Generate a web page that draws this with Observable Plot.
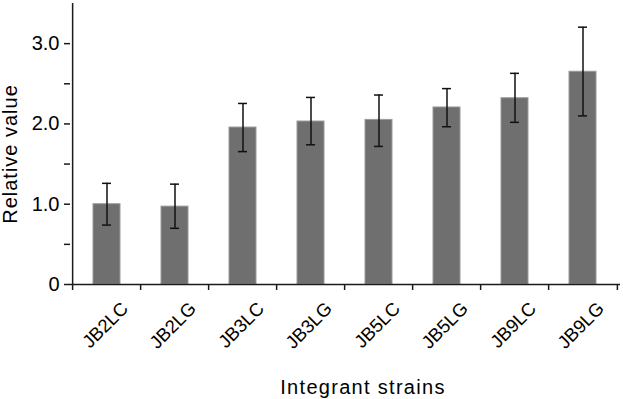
<!DOCTYPE html>
<html>
<head>
<meta charset="utf-8">
<script src="https://cdn.jsdelivr.net/npm/d3@7"></script>
<script src="https://cdn.jsdelivr.net/npm/@observablehq/plot@0.6"></script>
<style>
  html, body { margin: 0; padding: 0; background: #fff; }
  #chart { width: 623px; height: 399px; }
</style>
</head>
<body>
<div id="chart"></div>
<script>
const strains = ["JB2LC", "JB2LG", "JB3LC", "JB3LG", "JB5LC", "JB5LG", "JB9LC", "JB9LG"];
const values  = [1.00, 0.97, 1.955, 2.03, 2.05, 2.205, 2.32, 2.65];
const errLow  = [0.74, 0.70, 1.655, 1.74, 1.72, 1.965, 2.02, 2.10];
const errHigh = [1.26, 1.25, 2.255, 2.33, 2.36, 2.44, 2.63, 3.205];
const yMajorTicks = [0, 1, 2, 3];
const yMajorLabels = ["0", "1.0", "2.0", "3.0"];
const yMinorTicks = [0.5, 1.5, 2.5];
const xTitle = "Integrant strains";
const yTitle = "Relative value";

const data = strains.map((s, i) => ({strain: s, value: values[i], lo: errLow[i], hi: errHigh[i]}));

const W = 623, H = 399;
const mL = 70, mR = 3, mT = 3, mB = 115;
const step = (W - mL - mR) / strains.length;
const axisColor = "#1a1a1a";
const textColor = "#000";

const plot = Plot.plot({
  width: W,
  height: H,
  marginLeft: mL,
  marginRight: mR,
  marginTop: mT,
  marginBottom: mB,
  style: {fontFamily: "'Liberation Sans', Arial, sans-serif", color: textColor, background: "#fff"},
  x: {domain: strains, paddingInner: 0.6, paddingOuter: 0.3, axis: null},
  y: {domain: [0, 3.5], axis: null},
  marks: [
    Plot.barY(data, {x: "strain", y: "value", fill: "#6f6f6f", stroke: "#9a9a9a", strokeWidth: 1}),
    Plot.ruleX(data, {x: "strain", y1: "lo", y2: "hi", stroke: "#111", strokeWidth: 1.5}),
    Plot.tickY(data, {x: "strain", y: "lo", stroke: "#111", strokeWidth: 1.5, inset: 9}),
    Plot.tickY(data, {x: "strain", y: "hi", stroke: "#111", strokeWidth: 1.5, inset: 9}),
    // y axis line
    Plot.ruleX([strains[0]], {x: d => d, y1: 0, y2: 3.5, dx: -step / 2, stroke: axisColor, strokeWidth: 1.5}),
    // x axis line
    Plot.ruleY([0], {stroke: axisColor, strokeWidth: 1.5}),
    // x ticks at category boundaries
    Plot.ruleX(strains, {x: d => d, y1: 0, y2: 0, insetBottom: -6, dx: -step / 2, stroke: axisColor, strokeWidth: 1.5}),
    Plot.ruleX([strains[strains.length - 1]], {x: d => d, y1: 0, y2: 0, insetBottom: -6, dx: step / 2, stroke: axisColor, strokeWidth: 1.5}),
    // y axis ticks & labels
    Plot.axisY(yMajorTicks, {anchor: "left", tickSize: 6, tickPadding: 5, fontSize: 20, stroke: axisColor, strokeWidth: 1.5,
      tickFormat: (d) => yMajorLabels[yMajorTicks.indexOf(d)], label: null, fill: textColor}),
    Plot.axisY(yMinorTicks, {anchor: "left", tickSize: 6, tickFormat: () => "", label: null, stroke: axisColor, strokeWidth: 1.5}),
    // x tick labels
    Plot.text(strains, {x: d => d, text: d => d, frameAnchor: "bottom", rotate: -45, textAnchor: "end", lineAnchor: "middle",
      dx: 18, dy: 21, fontSize: 18.5, fill: textColor}),
    // axis titles
    Plot.text([yTitle], {text: d => d, frameAnchor: "left", rotate: -90, textAnchor: "middle", lineAnchor: "middle",
      dx: -60, dy: 10, fontSize: 20, fill: textColor}),
    Plot.text([xTitle], {text: d => d, frameAnchor: "bottom", textAnchor: "middle", lineAnchor: "middle",
      dx: 17.5, dy: 103, fontSize: 20, fill: textColor})
  ]
});

d3.select(plot).selectAll("text").filter(function () { return this.textContent === xTitle; }).style("letter-spacing", "1.3px");
d3.select(plot).selectAll("text").filter(function () { return this.textContent === yTitle; }).style("letter-spacing", "1px");

document.getElementById("chart").appendChild(plot);
</script>
</body>
</html>
